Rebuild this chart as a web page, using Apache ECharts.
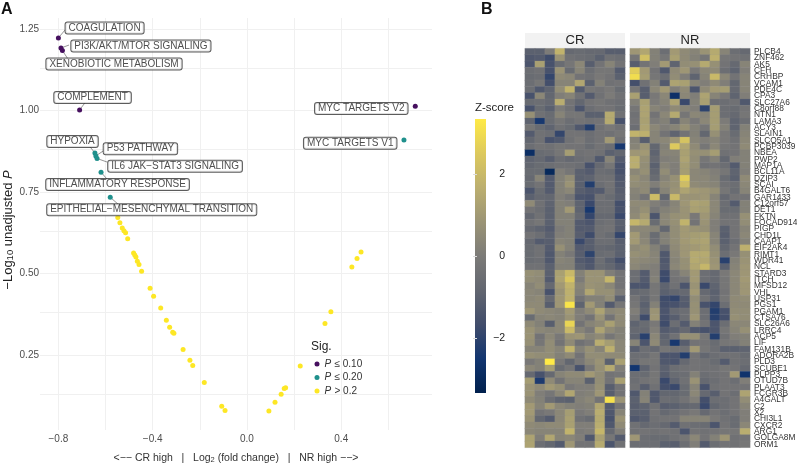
<!DOCTYPE html>
<html><head><meta charset="utf-8">
<style>html,body{margin:0;padding:0;background:#fff}#c{width:797px;height:465px}</style>
<script src="https://cdn.jsdelivr.net/npm/echarts@6/dist/echarts.min.js"></script>
</head><body><div id="c"></div>
<script>
const xTicks=[-0.8,-0.4,0,0.4];
const yTicks=[0.25,0.5,0.75,1,1.25];
const xGrid=[-0.8,-0.6,-0.4,-0.2,0,0.2,0.4,0.6];
const yGrid=[0.125,0.25,0.375,0.5,0.625,0.75,0.875,1,1.125,1.25];
const sig10=[[-0.800,1.223],[-0.789,1.192],[-0.783,1.184],[-0.710,1.002],[0.714,1.013]];
const sig20=[[-0.645,0.870],[-0.641,0.861],[-0.636,0.853],[-0.619,0.811],[-0.580,0.734],[0.666,0.910]];
const sigNo=[[-0.548,0.672],[-0.539,0.656],[-0.529,0.640],[-0.522,0.631],[-0.515,0.625],[-0.506,0.607],[-0.481,0.563],[-0.476,0.557],[-0.471,0.551],[-0.465,0.538],[-0.458,0.528],[-0.447,0.507],[-0.411,0.455],[-0.396,0.430],[-0.366,0.394],[-0.342,0.357],[-0.328,0.335],[-0.315,0.320],[-0.310,0.317],[-0.271,0.267],[-0.242,0.234],[-0.230,0.218],[-0.181,0.166],[-0.107,0.093],[-0.093,0.080],[0.093,0.078],[0.119,0.105],[0.145,0.130],[0.158,0.147],[0.164,0.150],[0.226,0.216],[0.331,0.347],[0.356,0.383],[0.445,0.520],[0.467,0.546],[0.484,0.566]];
const pathNames=['COAGULATION','PI3K/AKT/MTOR SIGNALING','XENOBIOTIC METABOLISM','COMPLEMENT','HYPOXIA','P53 PATHWAY','IL6 JAK\u2212STAT3 SIGNALING','INFLAMMATORY RESPONSE','EPITHELIAL\u2212MESENCHYMAL TRANSITION','MYC TARGETS V2','MYC TARGETS V1'];
const pathPoints=[[-0.800,1.223],[-0.789,1.192],[-0.783,1.184],[-0.710,1.002],[-0.645,0.870],[-0.641,0.861],[-0.636,0.853],[-0.619,0.811],[-0.580,0.734],[0.714,1.013],[0.666,0.910]];
const pathLabelAt=[[-0.604,1.253],[-0.450,1.198],[-0.564,1.143],[-0.655,1.040],[-0.740,0.905],[-0.452,0.883],[-0.305,0.829],[-0.549,0.773],[-0.404,0.696],[0.485,1.006],[0.438,0.900]];
const pathLineEnd=[[-0.772,1.247],[-0.755,1.201],[-0.759,1.158],[-0.687,1.024],[-0.666,0.889],[-0.610,0.876],[-0.593,0.842],[-0.594,0.790],[-0.547,0.713]];
const genes=['PLCB4','ZNF462','AK5','CFH','CRHBP','VCAM1','PDE4C','CPA3','SLC27A6','C8orf88','NTN1','LAMA3','ACY3','SLAIN1','SLCO5A1','PCBP3039','NBEA','PWP2','MAP1A','BCL11A','DZIP3','SCAI','B4GALT6','GAR1433','C12orf57','DET1','FKTN','FOCAD914','PIGP','CHD1L','CAAP1','EIF2AK4','RIMT1','WDR41','NCL','STARD3','ITCH','MFSD12','VHL','USP31','PGS1','PGAM1','CTSA76','SLC26A6','LRRC4','ACP5','LIF','FAM131B','ADORA2B','PLD3','SCUBE1','PLPP3','OTUD7B','PLAAT3','FCGR3B','A4GALT','C2','X2','CHI3L1','CXCR2','ARG1','GOLGA8M','ORM1'];
const zCR=[
[-1,-1,0,1.8,-.7,-.6,-.7,-.7,-1.1,-1.1],
[-1.3,-1.2,-1.7,.8,-.4,-.5,-.6,-1,-.4,-.5],
[-1.4,1.2,-1.5,-.6,-.2,.4,-1.1,-.3,.3,-.3],
[-.5,-.4,-1.5,.8,-.6,.3,-.5,-.2,-.2,-1.2],
[-.6,-.5,-1.9,.5,.4,-.3,-.4,-.1,-.3,-1],
[-.5,-.2,-1.6,.3,.3,1.4,-1,.2,-.4,-.3],
[-.5,-1.3,-.9,.6,1.8,-1.2,-.2,-.3,-.1,-.6],
[-1.5,.4,-.8,.1,.3,-.4,-1.2,-.4,0,-.4],
[-.6,-.5,-.7,1.6,-.3,-.8,-.3,-.2,-.4,-.5],
[-1.5,-.6,-1,0,-.4,-1.4,-.5,-.3,-.3,-.6],
[.7,-.4,-.6,.3,-.2,-.2,-1,-1,1.5,-.4],
[-.9,-2.4,-.6,-.2,-.5,-.3,-.4,-.3,1.5,-1.5],
[-.2,-.6,-.9,-.4,-.6,-1.3,-2.2,-.4,-.1,-.4],
[-1.2,-.4,-.5,-1.9,-.3,-.3,-.5,-.3,-.4,-.2],
[-.8,-.4,-1.5,-1.3,-.4,-.1,-.5,-.3,1,-.4],
[-.5,-.3,-.4,-.2,-.3,-.3,-.6,-.3,-.5,-2.4],
[-2.8,-.6,-.5,-.2,1.1,-.4,-.3,-.4,-1,-.8],
[-.9,-.7,-1.1,-.5,-.7,-.5,-.4,-1.3,.3,-1.2],
[-.8,-.6,-.5,-.4,-.4,-.5,-1.5,-.7,-.2,-1.5],
[-.6,-.6,-3,.1,-.2,-1,-1.2,-.5,-.6,-1.5],
[-.7,.3,-1.2,.2,.6,-1,-.9,-.4,-.4,-1.3],
[-.6,-.3,-1.2,.2,.8,-1,-2.2,-.5,-.3,-1.2],
[-1.4,-.6,-1.2,.2,.4,-1.1,-1.3,-1.2,-.4,-1.1],
[-1,-.7,-.8,.1,-.2,-1.4,-1.5,-.4,-.6,-1],
[.5,-.4,-.9,.2,.1,-.9,-1.8,-.5,-.5,-1.6],
[-.3,-.5,-1,.2,1,-.9,-2.4,-.5,-.5,-1.5],
[-.8,-.4,-1,.2,.2,-.7,-1.9,-.7,-.7,-1.8],
[-.4,-.2,-1,.2,.2,-1.2,-1.4,-.5,-.4,-1],
[-.7,-.9,-1.2,0,.2,-1.2,-1.2,-.4,-.3,-1.1],
[-.3,-.5,-1,.1,.2,-1.1,-1.7,-.4,-.6,-1.9],
[-.7,-1.2,-1.1,.3,.2,-1.8,-1.1,-.5,-.5,-1.1],
[-.6,-.4,-1.2,.7,.2,-1.2,-1.1,-.7,-.8,-1],
[-.6,-.4,-1.3,.2,-.1,-1.1,-2,-.6,-.5,-1],
[-.6,-.5,-1.3,.3,.2,-1.2,-1.4,-.5,-1,-1.6],
[-.4,-.4,-1,.2,.2,-1,-1.3,-.6,-.8,-1.2],
[.7,.6,-1,1.2,2,.2,.8,.8,.1,-.3],
[.6,.5,-1.2,1.3,2.4,0,.8,.8,1.9,-.3],
[.3,.6,-.7,1,1.8,.3,.8,.7,.4,-.3],
[.4,.3,-1.5,.8,1.7,.2,1.4,.7,.7,0],
[.4,.5,-.7,.9,1.7,-.3,.2,.2,.6,-1],
[.5,.5,-1.1,.9,3.2,-.9,1,.2,-1.2,-.2],
[.9,.5,.4,.3,1,.1,.5,1.3,.4,.5],
[-.6,.3,.4,.3,.8,.1,-.3,.8,-.3,.5],
[.5,.2,-1.1,.4,2.8,-.3,.3,.5,1.2,.5],
[.8,.4,.3,.4,2,.3,-.1,1.3,.5,.2],
[.8,-.3,.4,-.1,.8,.9,.3,.5,-.2,.2],
[.7,-.2,.6,-.3,.5,-.4,-.1,1.6,1.1,.4],
[.3,.3,.6,.3,1.8,.2,.7,.3,1.7,.4],
[.7,.6,.6,.2,.5,-.3,.6,.6,.5,.5],
[-.1,.2,3.4,-.1,-.8,-.1,.4,.8,-1,1.2],
[.4,.2,1.1,-.6,-.2,-1.5,-.1,.7,1.5,.1],
[-.7,-1.5,-.7,.3,.5,.5,1,.6,-.3,-.2],
[1.1,-2.3,.5,-.3,.3,.3,-1,.6,-.3,1.2],
[.8,.5,1,.7,-.1,.1,.1,.7,-1.1,-.3],
[.8,.1,-.2,.4,1.4,.1,.2,.9,-1.1,-.3],
[.5,.2,-.5,-.9,-1,.2,.4,-.3,3.1,.8],
[1,.3,1,.4,.2,.1,.2,1.4,-1.2,-.3],
[1,-.3,-.1,.4,1.1,-.1,.1,1.6,-1.3,.3],
[.8,-.8,-1.2,.4,1.2,-.4,-.6,1.5,-1.5,.8],
[.5,.4,.5,.5,1.2,.1,.1,1.6,-1.3,.5],
[.4,.3,.3,.3,1.8,0,.1,1.9,-.7,.1],
[1.3,.1,1.4,.3,.4,.1,-1.3,1.2,-.2,-1.2],
[1.3,-.5,-.8,-1.2,.9,-.3,-.3,1.5,-1.4,-.4]];
const zNR=[
[.9,1.4,.2,-.5,1,.5,.3,.8,1.5,.3,-.5,-.7],
[-.2,2.2,.2,-.2,1.2,.5,.2,-.2,1.7,-.2,-.3,-.4],
[-1.1,-.3,.1,1,-.9,.6,.7,1.5,.7,-.3,-.7,.3],
[2.6,1,-.3,-1.3,.5,.9,-.1,.4,.5,-.5,-.9,.1],
[3,1.1,-.2,-.5,.6,.1,-.9,.3,2,.4,-.3,.3],
[-1.6,-.4,.2,-1.2,1.3,1.2,.3,.1,.5,.1,-.8,.3],
[-.2,-1.1,.4,1,.1,.5,-1.4,.5,1,1.1,-.7,.3],
[1.2,-1.1,-.1,.4,-2.7,.4,.1,1.3,.3,-.1,-.9,.1],
[.2,1.2,0,.3,1.3,-1.8,.2,1.2,-.5,-.5,-.4,-1.3],
[-.2,1.3,.3,.1,.5,.3,.1,-2,1.1,-.5,-.6,-.3],
[-.4,1.3,-.3,.4,1.5,-.2,.4,.3,1.1,-.5,-.7,-.2],
[-.3,1.2,0,.2,-.7,.3,-.1,.4,1.1,0,-.9,-.5],
[-.5,1.3,.4,.1,.3,.7,.2,-.2,1.1,.2,-.9,.2],
[1.8,1.7,.3,-.3,-.9,-.3,.2,-.8,.7,-.1,-.6,.3],
[.2,-1.1,.3,.4,.9,2.3,.3,.1,.3,-.1,-.4,.4],
[.3,.8,-.8,.2,2.5,1.4,.5,-.2,.4,-.2,-.3,.5],
[.9,1,-.9,.3,.3,1.2,.7,.7,1.1,-.4,-.3,.2],
[1.6,.7,-.7,.1,.2,1.3,.6,-.2,.2,-.8,.1,.2],
[1.6,.6,-1,.3,.1,1.1,.6,-.4,-.3,-.5,-1.2,.2],
[.4,.7,-.8,.6,.1,1.1,.4,.3,.1,-.2,-.9,.1],
[.7,.4,-.6,.3,.7,2.6,.4,.4,.2,-.6,-1,.5],
[.6,.5,.1,.5,.7,2.1,.5,.4,.3,-.4,-.5,.4],
[.3,.5,-.7,.3,.8,1.3,1,.9,.7,-.2,-.6,.3],
[.2,-.3,2.1,-.8,2,.8,.8,.9,.3,-.7,-.3,-.3],
[.5,.5,.1,-.2,.3,.9,1.3,1.2,.4,-.5,-1.2,.2],
[.4,.7,-.2,.2,.4,.8,1.2,1.1,.4,-.6,-.6,.2],
[.5,1,-1.4,.4,.7,.8,-.1,.9,.3,-.4,-.4,.7],
[1.9,1.5,-.6,.4,.7,1.8,-.3,.8,.1,-.3,-.3,.6],
[.4,.4,.3,-.8,.6,1,.8,.7,.1,-1,-.3,.3],
[1,.3,-.6,.2,.6,1,1.1,1.2,.3,-1.1,-.3,.4],
[1,.4,-.5,.2,.6,1,1.2,1.3,.3,-1,-.5,.2],
[.5,.7,.2,-.5,.5,.9,1,1.2,.6,-.8,-.3,1.7],
[.7,.6,.3,-1.3,.4,.9,1.5,1.5,.7,-.5,-.1,.7],
[.5,.4,.3,-1.3,.3,.7,1.5,1.4,.8,-2.1,.2,.8],
[.4,.2,.1,-1.2,.4,.7,1.4,1.9,.9,-1,.3,.9],
[-.5,-1.2,.1,-1.7,-.2,.3,1,-.5,-.7,-.1,.4,.9],
[-.5,-1.2,.2,-1.8,-.3,-.2,1,-.5,-.7,-.2,.4,1],
[-1.4,-1.4,-.2,-.9,-.4,-1.4,.8,-1.8,-.9,-.2,.4,.9],
[-.7,-.6,-.2,-1,-.8,-.7,1,-.7,-1,-.3,.4,.9],
[-.3,-.8,-.2,-1.7,-1.9,-1.1,.6,-.4,-.9,-.2,.5,.6],
[-.2,-1,.2,-1.6,-1.5,-1.2,.7,-1.5,-1.9,-.5,.5,.5],
[.1,-.8,.8,-1.4,-.7,-.5,.7,-.5,-2.2,-1.5,.6,.6],
[-.2,-1.7,.9,-1.5,-1.1,-.5,.9,-.5,-2.1,-1.6,.7,.6],
[-.9,-.6,-.1,-1.7,-.5,-1.2,.2,-.3,-1.4,-.5,.4,.4],
[-.7,-.7,.1,-1.2,-1,-.7,-1.3,-1.5,-1.4,-.2,.3,.7],
[-.9,-2.1,.4,-.9,-.4,.7,.7,-.2,-2.2,-.4,.1,.2],
[.3,-1.4,.5,-.8,-2.4,-1.1,-.3,-.3,-.6,-.2,-.1,.2],
[-1.1,-.5,-.7,-.2,-.4,-.4,1,-.2,-.5,-1,-1,-.9],
[-.5,-.5,-.2,-1.4,-1.4,-2.2,-.3,-.8,-.5,-.4,-.4,-.6],
[-.5,-.2,-.2,-1.3,-1.4,-.7,-.3,-.4,-.6,-1.2,-.4,-.5],
[-2.5,-.9,-.3,-1,-.5,-.4,-.3,-.4,-.4,-.2,-.3,-.7],
[-.5,-.6,-.2,-1.1,-.6,-.5,.2,-.5,-.4,-.3,1,-2.6],
[-.5,-.3,-.2,-1.8,-.9,-.4,.8,-.7,-.5,-.3,-.5,.1],
[-.4,-1.1,-.4,-1.6,-1.8,-.6,.3,-1.5,-.4,-.3,-.3,-.3],
[-1.3,.2,-1.3,-.8,-.8,-.6,.4,-.7,-1.1,-.3,-.5,1.3],
[-1,.3,-1.3,-.5,-.6,-.3,.1,-1.6,-.5,-.5,-.3,.6],
[-1.1,-.9,-.4,-1.1,-1,-.8,-.7,-1.8,-.8,-.5,-.3,.3],
[-1,-1,-.3,-.7,-.5,-.3,-.1,-.7,-.3,-.5,-.3,.1],
[-1.3,-1.1,-.4,-.3,-.3,.3,.3,.3,-.1,-.4,-.6,.1],
[-.4,-.7,-.5,-.7,-1.2,-.4,-.5,-.6,-1.4,-.3,-.6,.4],
[-.4,-.3,-.4,-.3,-.4,-1.4,-.3,-.4,-.3,-.2,-.2,1.6],
[.9,-.5,-.6,-.6,-.4,-.2,.4,-.3,.2,.9,-.4,-.3],
[-.5,-.5,-.5,-1,-1.1,-.5,.1,-1.2,-.5,-.3,-.4,-.2]];
const zTicks=[-2,0,2];
const ramp=['#00204d','#123570','#414d6b','#626670','#7c7b78','#9b9475','#bcaf6f','#ddc95d','#ffea46'];

const FONT='"Liberation Sans", Arial, sans-serif';
const cells=(m)=>{const o=[];m.forEach((r,i)=>r.forEach((v,j)=>o.push([j,i,v])));return o;};
const heat=(m,idx)=>({type:'heatmap',xAxisIndex:idx,yAxisIndex:idx,data:cells(m),progressive:0,
  itemStyle:{borderWidth:0.4,borderColor:'rgba(150,150,150,0.35)'},emphasis:{disabled:true},silent:true});
const chart=echarts.init(document.getElementById('c'),null,{renderer:'canvas'});
const rowAxis=(show)=>({type:'category',gridIndex:show?2:1,inverse:true,data:genes,position:'right',
  axisLine:{show:false},axisTick:{show:false},splitLine:{show:false},
  axisLabel:{show:show,interval:0,fontSize:8.4,color:'#333',margin:4,fontFamily:FONT}});
const colAxis=(n,i)=>({type:'category',gridIndex:i,data:Array.from({length:n},(_,k)=>k),show:false});
const pt=(name,color,data)=>({name,type:'scatter',xAxisIndex:0,yAxisIndex:0,data,symbolSize:5,z:5,
  itemStyle:{color,opacity:1},silent:true});
const lgSym={'P \u2264 0.10':'{i|P} {t|\u2264 0.10}','P \u2264 0.20':'{i|P} {t|\u2264 0.20}','P > 0.2':'{i|P} {t|> 0.2}'};
chart.setOption({
  animation:false,backgroundColor:'#fff',textStyle:{fontFamily:FONT},
  title:[
    {text:'A',left:1,top:2,padding:0,textStyle:{fontSize:16,fontWeight:'bold',color:'#111',fontFamily:FONT}},
    {text:'B',left:481,top:2,padding:0,textStyle:{fontSize:16,fontWeight:'bold',color:'#111',fontFamily:FONT}},
    {text:'Sig.',left:311,top:341,padding:0,textStyle:{fontSize:12,fontWeight:'normal',color:'#222',fontFamily:FONT}},
    {text:'Z-score',left:475,top:102,padding:0,textStyle:{fontSize:11.5,fontWeight:'normal',color:'#222',fontFamily:FONT}},
    {text:'CR',left:575,top:33,padding:0,textAlign:'center',textStyle:{fontSize:13,lineHeight:14,fontWeight:'normal',color:'#222',fontFamily:FONT}},
    {text:'NR',left:690,top:33,padding:0,textAlign:'center',textStyle:{fontSize:13,lineHeight:14,fontWeight:'normal',color:'#222',fontFamily:FONT}}
  ],
  graphic:[
    {type:'rect',z:-1,shape:{x:525,y:33,width:100,height:15},style:{fill:'#f2f2f2'}},
    {type:'rect',z:-1,shape:{x:630,y:33,width:120,height:15},style:{fill:'#f2f2f2'}}
  ],
  legend:{show:true,orient:'vertical',left:314.5,top:358,itemWidth:5,itemHeight:5,itemGap:1.5,padding:0,
    data:['P \u2264 0.10','P \u2264 0.20','P > 0.2'].map(n=>({name:n,icon:'circle'})),
    formatter:n=>lgSym[n],selectedMode:false,
    textStyle:{rich:{i:{fontStyle:'italic',fontSize:10,color:'#333',fontFamily:FONT},t:{fontSize:10,color:'#333',fontFamily:FONT}}}},
  visualMap:{show:false,type:'continuous',min:-3.34,max:3.34,seriesIndex:[4,5],calculable:false,inRange:{color:ramp}},
  grid:[
    {left:40,top:18,width:392,height:412,outerBoundsMode:'none'},
    {left:525,top:48.5,width:100,height:399,outerBoundsMode:'none'},
    {left:630,top:48.5,width:120,height:399,outerBoundsMode:'none'},
    {left:475,top:119,width:11,height:274,show:true,borderWidth:0,outerBoundsMode:'none',
      backgroundColor:new echarts.graphic.LinearGradient(0,1,0,0,ramp.map((c,i)=>({offset:i/(ramp.length-1),color:c})))}
  ],
  xAxis:[
    {type:'value',gridIndex:0,min:-0.878,max:0.785,splitLine:{show:false},axisLine:{show:false},axisTick:{show:false},
     axisLabel:{customValues:xTicks,fontSize:10,color:'#4d4d4d',margin:4,fontFamily:FONT,formatter:v=>v<0?'\u2212'+Math.abs(v).toFixed(1):v.toFixed(1)},
     name:'{t|<\u2212\u2212 CR high   |   Log}{s|2}{t| (fold change)   |   NR high \u2212\u2212>}',nameLocation:'middle',nameGap:23,
     nameTextStyle:{rich:{t:{fontSize:10.5,color:'#333',fontFamily:FONT,verticalAlign:'middle'},s:{fontSize:7.5,color:'#333',fontFamily:FONT,verticalAlign:'bottom'}}}},
    colAxis(10,1),colAxis(12,2),
    {type:'value',gridIndex:3,min:0,max:1,show:false}
  ],
  yAxis:[
    {type:'value',gridIndex:0,min:0.02,max:1.284,splitLine:{show:false},axisLine:{show:false},axisTick:{show:false},
     axisLabel:{customValues:yTicks,fontSize:10,color:'#4d4d4d',margin:1,fontFamily:FONT,formatter:v=>v.toFixed(2)},
     name:'{t|\u2212Log}{s|10}{t| unadjusted }{i|P}',nameLocation:'middle',nameRotate:90,nameGap:25,
     nameTextStyle:{padding:[0,12,0,0],rich:{t:{fontSize:13,color:'#222',fontFamily:FONT},i:{fontSize:13,color:'#222',fontStyle:'italic',fontFamily:FONT},s:{fontSize:9.5,color:'#222',fontFamily:FONT,verticalAlign:'bottom'}}}},
    rowAxis(false),rowAxis(true),
    {type:'value',gridIndex:3,min:-3.34,max:3.34,position:'right',splitLine:{show:false},axisLine:{show:false},
     axisTick:{show:true,inside:true,length:2,customValues:zTicks,lineStyle:{color:'#ddd',width:1}},
     axisLabel:{customValues:zTicks,fontSize:10.5,color:'#222',margin:19,align:'right',fontFamily:FONT,formatter:v=>v<0?'\u2212'+Math.abs(v):''+v}},
    {type:'value',gridIndex:3,min:-3.34,max:3.34,position:'left',splitLine:{show:false},axisLine:{show:false},
     axisTick:{show:true,inside:true,length:2,customValues:zTicks,lineStyle:{color:'#ddd',width:1}},axisLabel:{show:false}}
  ],
  series:[
    pt('P \u2264 0.10','#46105f',sig10),
    pt('P \u2264 0.20','#1f908c',sig20),
    pt('P > 0.2','#fde725',sigNo),
    {type:'lines',coordinateSystem:'cartesian2d',xAxisIndex:0,yAxisIndex:0,polyline:false,z:3,silent:true,
     lineStyle:{color:'#7a7a7a',width:0.8,opacity:1},
     data:pathLineEnd.map((e,i)=>({coords:[pathPoints[i],e]}))},
    heat(zCR,1),heat(zNR,2),
    {type:'scatter',xAxisIndex:0,yAxisIndex:0,symbolSize:0,z:6,silent:true,
     data:pathLabelAt.map((p,i)=>({value:p,name:pathNames[i]})),
     label:{show:true,position:'inside',formatter:p=>p.name,fontSize:10,lineHeight:9,color:'#222',fontFamily:FONT,
       backgroundColor:'#fff',borderColor:'#333',borderWidth:1,borderRadius:2,padding:[1,3,1,3]},labelLayout:{hideOverlap:false}},
    {type:'line',xAxisIndex:0,yAxisIndex:0,data:[],z:1,silent:true,symbol:'none',
     markLine:{z:1,silent:true,symbol:'none',label:{show:false},animation:false,lineStyle:{color:'#f0f0f0',width:1,type:'solid'},
       data:xGrid.map(v=>({xAxis:v})).concat(yGrid.map(v=>({yAxis:v})))}}
  ]
});
</script></body></html>
